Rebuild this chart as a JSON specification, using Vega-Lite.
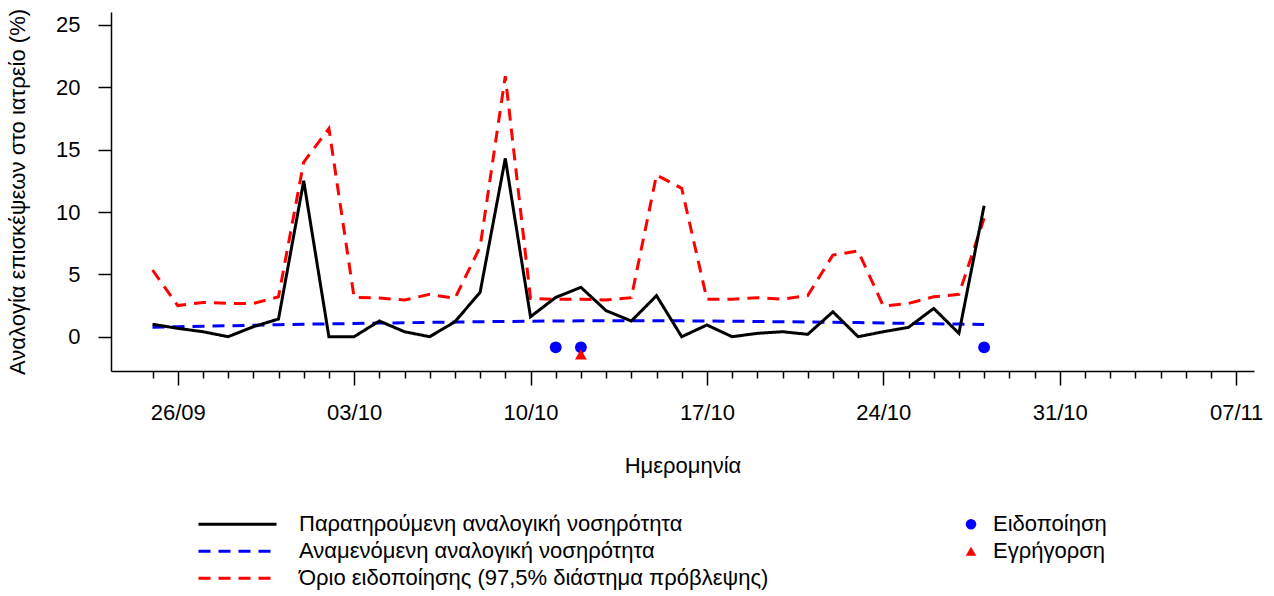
{
  "$schema": "https://vega.github.io/schema/vega-lite/v6.json",
  "width": 1143,
  "height": 359,
  "autosize": {"type": "none"},
  "padding": {"left": 111, "top": 12, "right": 20, "bottom": 225},
  "background": "white",
  "datasets": {
    "series": [
      {"date": "2023-09-25", "obs": 1.0, "exp": 0.75, "thr": 5.35},
      {"date": "2023-09-26", "obs": 0.67, "exp": 0.8, "thr": 2.5},
      {"date": "2023-09-27", "obs": 0.4, "exp": 0.84, "thr": 2.75},
      {"date": "2023-09-28", "obs": 0.0, "exp": 0.88, "thr": 2.67},
      {"date": "2023-09-29", "obs": 0.8, "exp": 0.92, "thr": 2.67},
      {"date": "2023-09-30", "obs": 1.42, "exp": 0.96, "thr": 3.2},
      {"date": "2023-10-01", "obs": 12.5, "exp": 1.0, "thr": 14.0},
      {"date": "2023-10-02", "obs": 0.0, "exp": 1.03, "thr": 16.7},
      {"date": "2023-10-03", "obs": 0.0, "exp": 1.06, "thr": 3.15},
      {"date": "2023-10-04", "obs": 1.26, "exp": 1.09, "thr": 3.1},
      {"date": "2023-10-05", "obs": 0.4, "exp": 1.12, "thr": 2.94},
      {"date": "2023-10-06", "obs": 0.0, "exp": 1.15, "thr": 3.4},
      {"date": "2023-10-07", "obs": 1.2, "exp": 1.18, "thr": 3.07},
      {"date": "2023-10-08", "obs": 3.56, "exp": 1.2, "thr": 7.2},
      {"date": "2023-10-09", "obs": 14.3, "exp": 1.22, "thr": 20.9},
      {"date": "2023-10-10", "obs": 1.6, "exp": 1.24, "thr": 3.07},
      {"date": "2023-10-11", "obs": 3.15, "exp": 1.26, "thr": 3.0},
      {"date": "2023-10-12", "obs": 3.96, "exp": 1.27, "thr": 3.0},
      {"date": "2023-10-13", "obs": 2.09, "exp": 1.28, "thr": 2.94},
      {"date": "2023-10-14", "obs": 1.26, "exp": 1.28, "thr": 3.13},
      {"date": "2023-10-15", "obs": 3.29, "exp": 1.28, "thr": 12.97},
      {"date": "2023-10-16", "obs": 0.0, "exp": 1.27, "thr": 11.9},
      {"date": "2023-10-17", "obs": 0.94, "exp": 1.26, "thr": 3.0},
      {"date": "2023-10-18", "obs": 0.0, "exp": 1.24, "thr": 3.0},
      {"date": "2023-10-19", "obs": 0.27, "exp": 1.22, "thr": 3.13},
      {"date": "2023-10-20", "obs": 0.4, "exp": 1.2, "thr": 3.0},
      {"date": "2023-10-21", "obs": 0.19, "exp": 1.18, "thr": 3.3},
      {"date": "2023-10-22", "obs": 2.0, "exp": 1.16, "thr": 6.55},
      {"date": "2023-10-23", "obs": 0.0, "exp": 1.13, "thr": 6.87},
      {"date": "2023-10-24", "obs": 0.4, "exp": 1.1, "thr": 2.46},
      {"date": "2023-10-25", "obs": 0.75, "exp": 1.07, "thr": 2.67},
      {"date": "2023-10-26", "obs": 2.27, "exp": 1.04, "thr": 3.2},
      {"date": "2023-10-27", "obs": 0.27, "exp": 1.01, "thr": 3.4},
      {"date": "2023-10-28", "obs": 10.5, "exp": 0.98, "thr": 9.5}
    ],
    "signals": [
      {"date": "2023-10-11", "val": -0.85, "kind": "Ειδοποίηση"},
      {"date": "2023-10-12", "val": -0.85, "kind": "Ειδοποίηση"},
      {"date": "2023-10-28", "val": -0.85, "kind": "Ειδοποίηση"},
      {"date": "2023-10-12", "val": -1.41, "kind": "Εγρήγορση"}
    ]
  },
  "layer": [
    {
      "data": {"name": "series"},
      "transform": [{"fold": ["thr", "exp", "obs"], "as": ["key", "val"]}],
      "mark": {"type": "line", "strokeWidth": 3, "strokeCap": "butt"},
      "encoding": {
        "x": {
          "field": "date",
          "type": "temporal",
          "scale": {"type": "utc", "domain": [1695457699200, 1699376544000], "nice": false},
          "axis": {
            "values": [1695600000000, 1695686400000, 1695772800000, 1695859200000, 1695945600000, 1696032000000, 1696118400000, 1696204800000, 1696291200000, 1696377600000, 1696464000000, 1696550400000, 1696636800000, 1696723200000, 1696809600000, 1696896000000, 1696982400000, 1697068800000, 1697155200000, 1697241600000, 1697328000000, 1697414400000, 1697500800000, 1697587200000, 1697673600000, 1697760000000, 1697846400000, 1697932800000, 1698019200000, 1698105600000, 1698192000000, 1698278400000, 1698364800000, 1698451200000, 1698537600000, 1698624000000, 1698710400000, 1698796800000, 1698883200000, 1698969600000, 1699056000000, 1699142400000, 1699228800000, 1699315200000],
            "tickCount": 200,
            "labelExpr": "(datum.value - 1695686400000) % 604800000 == 0 ? utcFormat(datum.value, '%d/%m') : ''",
            "tickSize": {"condition": {"test": "(datum.value - 1695686400000) % 604800000 == 0", "value": 14}, "value": 7},
            "labelPadding": 17,
            "labelOverlap": false,
            "labelFlush": false,
            "labelBound": false,
            "title": "Ημερομηνία",
            "titlePadding": 32
          }
        },
        "y": {
          "field": "val",
          "type": "quantitative",
          "scale": {"domain": [-2.75, 26.04], "nice": false, "zero": false},
          "axis": {
            "values": [0, 5, 10, 15, 20, 25],
            "tickSize": 13,
            "labelPadding": 18,
            "title": "Αναλογία επισκέψεων στο ιατρείο (%)",
            "titlePadding": 26
          }
        },
        "color": {
          "field": "key",
          "type": "nominal",
          "scale": {"domain": ["obs", "exp", "thr"], "range": ["#000000", "#0000ff", "#ff0000"]},
          "legend": {
            "orient": "none",
            "legendX": 86,
            "legendY": 499,
            "title": null,
            "symbolType": "stroke",
            "symbolSize": 6084,
            "symbolStrokeWidth": 3,
            "clipHeight": 26.5,
            "rowPadding": 0,
            "padding": 0,
            "labelOffset": 21,
            "labelFontSize": 22,
            "labelLimit": 800,
            "labelColor": "#000000",
            "labelExpr": "datum.label == 'obs' ? 'Παρατηρούμενη αναλογική νοσηρότητα' : datum.label == 'exp' ? 'Αναμενόμενη αναλογική νοσηρότητα' : 'Όριο ειδοποίησης (97,5% διάστημα πρόβλεψης)'"
          }
        },
        "strokeDash": {
          "field": "key",
          "type": "nominal",
          "scale": {"domain": ["obs", "exp", "thr"], "range": [[1, 0], [12, 8], [12, 8]]},
          "legend": null
        }
      }
    },
    {
      "data": {"name": "signals"},
      "mark": {"type": "point", "filled": true, "size": 140, "opacity": 1, "strokeWidth": 0},
      "encoding": {
        "x": {"field": "date", "type": "temporal"},
        "y": {"field": "val", "type": "quantitative"},
        "fill": {
          "field": "kind",
          "type": "nominal",
          "scale": {"domain": ["Ειδοποίηση", "Εγρήγορση"], "range": ["#0000ff", "#ff0000"]},
          "legend": {
            "orient": "none",
            "legendX": 849,
            "legendY": 499,
            "title": null,
            "symbolSize": 110,
            "symbolStrokeWidth": 0,
            "clipHeight": 26.5,
            "rowPadding": 0,
            "padding": 0,
            "labelOffset": 11,
            "labelFontSize": 22,
            "labelLimit": 400,
            "labelColor": "#000000"
          }
        },
        "shape": {
          "field": "kind",
          "type": "nominal",
          "scale": {"domain": ["Ειδοποίηση", "Εγρήγορση"], "range": ["circle", "triangle-up"]},
          "legend": {
            "orient": "none",
            "legendX": 849,
            "legendY": 499,
            "title": null,
            "symbolSize": 110,
            "symbolStrokeWidth": 0,
            "clipHeight": 26.5,
            "rowPadding": 0,
            "padding": 0,
            "labelOffset": 11,
            "labelFontSize": 22,
            "labelLimit": 400,
            "labelColor": "#000000"
          }
        }
      }
    }
  ],
  "config": {
    "view": {"stroke": null},
    "font": "Liberation Sans",
    "axis": {
      "grid": false,
      "domainColor": "#000000",
      "domainWidth": 1.5,
      "tickColor": "#000000",
      "tickWidth": 1.5,
      "labelColor": "#000000",
      "labelFont": "Liberation Sans",
      "labelFontSize": 22,
      "titleFont": "Liberation Sans",
      "titleFontSize": 22,
      "titleFontWeight": "normal",
      "titleColor": "#000000"
    },
    "legend": {
      "labelFont": "Liberation Sans"
    }
  }
}
